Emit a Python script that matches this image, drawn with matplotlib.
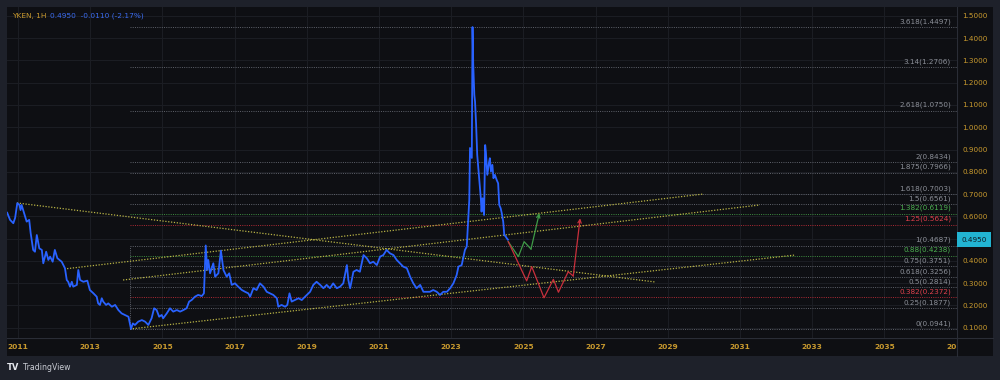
#===============================================================================#
# import external dependencies                                                  #
#===============================================================================#

import matplotlib
matplotlib.use('Agg')
import matplotlib.pyplot as plt
import matplotlib.transforms as mtransforms
from matplotlib.patches import Rectangle
from matplotlib.lines import Line2D

#===============================================================================#
# chart data                                                                    #
#===============================================================================#

ticker = 'YKEN, 1H'
last_price = 0.4950
last_change = -0.0110
last_change_pct = -2.17

price_years = [2010.70, 2010.78, 2010.87, 2010.92, 2010.98, 2011.04, 2011.07, 2011.10, 2011.17, 2011.24,
               2011.31, 2011.35, 2011.42, 2011.47, 2011.52, 2011.59, 2011.66, 2011.70, 2011.78, 2011.84,
               2011.89, 2011.96, 2012.02, 2012.09, 2012.21, 2012.30, 2012.35, 2012.39, 2012.44, 2012.49,
               2012.53, 2012.63, 2012.67, 2012.72, 2012.81, 2012.92, 2012.99, 2013.09, 2013.18, 2013.22,
               2013.27, 2013.32, 2013.36, 2013.44, 2013.50, 2013.60, 2013.69, 2013.78, 2013.87, 2013.96,
               2014.06, 2014.13, 2014.18, 2014.24, 2014.33, 2014.43, 2014.52, 2014.61, 2014.70, 2014.77,
               2014.84, 2014.91, 2014.98, 2015.02, 2015.12, 2015.21, 2015.30, 2015.40, 2015.49, 2015.58,
               2015.67, 2015.74, 2015.81, 2015.90, 2015.99, 2016.09, 2016.15, 2016.20, 2016.24, 2016.27,
               2016.32, 2016.41, 2016.46, 2016.55, 2016.62, 2016.69, 2016.78, 2016.85, 2016.92, 2017.01,
               2017.10, 2017.20, 2017.29, 2017.38, 2017.43, 2017.52, 2017.61, 2017.70, 2017.80, 2017.89,
               2017.98, 2018.07, 2018.17, 2018.21, 2018.30, 2018.40, 2018.46, 2018.52, 2018.58, 2018.67,
               2018.77, 2018.86, 2018.95, 2019.09, 2019.18, 2019.27, 2019.37, 2019.46, 2019.55, 2019.64,
               2019.73, 2019.83, 2019.92, 2020.01, 2020.11, 2020.15, 2020.20, 2020.29, 2020.38, 2020.47,
               2020.57, 2020.66, 2020.75, 2020.84, 2020.94, 2021.03, 2021.12, 2021.21, 2021.30, 2021.40,
               2021.49, 2021.58, 2021.67, 2021.77, 2021.86, 2021.95, 2022.04, 2022.14, 2022.23, 2022.32,
               2022.41, 2022.50, 2022.60, 2022.69, 2022.78, 2022.88, 2022.97, 2023.06, 2023.15, 2023.20,
               2023.29, 2023.38, 2023.43, 2023.50, 2023.52, 2023.57, 2023.59, 2023.61, 2023.64, 2023.66,
               2023.69, 2023.72, 2023.78, 2023.82, 2023.84, 2023.87, 2023.91, 2023.94, 2023.96, 2024.00,
               2024.05, 2024.07, 2024.10, 2024.14, 2024.17, 2024.21, 2024.26, 2024.30, 2024.33, 2024.37,
               2024.40, 2024.44, 2024.47, 2024.51, 2024.54, 2024.57]

price_values = [0.616, 0.584, 0.569, 0.593, 0.659, 0.651, 0.628, 0.651, 0.614, 0.576,
                0.584, 0.525, 0.449, 0.441, 0.516, 0.456, 0.449, 0.389, 0.441, 0.404,
                0.419, 0.396, 0.449, 0.412, 0.396, 0.367, 0.314, 0.306, 0.284, 0.306,
                0.284, 0.292, 0.359, 0.314, 0.306, 0.311, 0.269, 0.254, 0.239, 0.209,
                0.202, 0.232, 0.217, 0.202, 0.209, 0.194, 0.202, 0.179, 0.164, 0.157,
                0.149, 0.094, 0.119, 0.112, 0.127, 0.134, 0.127, 0.112, 0.142, 0.187,
                0.179, 0.149, 0.157, 0.142, 0.164, 0.187, 0.172, 0.179, 0.172, 0.179,
                0.187, 0.217, 0.224, 0.239, 0.247, 0.242, 0.254, 0.469, 0.359, 0.404,
                0.344, 0.389, 0.329, 0.344, 0.446, 0.359, 0.329, 0.344, 0.292, 0.299,
                0.284, 0.269, 0.261, 0.254, 0.239, 0.277, 0.269, 0.299, 0.284, 0.261,
                0.254, 0.247, 0.232, 0.194, 0.202, 0.194, 0.202, 0.254, 0.217, 0.224,
                0.232, 0.224, 0.239, 0.261, 0.292, 0.306, 0.292, 0.277, 0.292, 0.277,
                0.299, 0.277, 0.284, 0.299, 0.381, 0.314, 0.277, 0.351, 0.359, 0.351,
                0.426, 0.412, 0.389, 0.396, 0.381, 0.419, 0.426, 0.449, 0.434, 0.426,
                0.404, 0.389, 0.374, 0.367, 0.329, 0.299, 0.277, 0.292, 0.261, 0.261,
                0.261, 0.269, 0.261, 0.247, 0.261, 0.261, 0.277, 0.299, 0.336, 0.374,
                0.381, 0.449, 0.464, 0.673, 0.907, 0.862, 1.450, 1.280, 1.145, 1.115,
                1.010, 0.876, 0.756, 0.681, 0.621, 0.681, 0.606, 0.920, 0.890, 0.786,
                0.845, 0.861, 0.801, 0.831, 0.771, 0.786, 0.763, 0.748, 0.651, 0.636,
                0.614, 0.576, 0.516, 0.509, 0.501, 0.495]

# fib extension levels (ratio, price)
fib_ratios = ['0', '0.25', '0.382', '0.5', '0.618', '0.75', '0.88', '1', '1.25', '1.382',
              '1.5', '1.618', '1.875', '2', '2.618', '3.14', '3.618']
fib_levels = [0.0941, 0.1877, 0.2372, 0.2814, 0.3256, 0.3751, 0.4238, 0.4687, 0.5624, 0.6119,
              0.6561, 0.7003, 0.7966, 0.8434, 1.0750, 1.2706, 1.4497]
fib_start_year = 2014.10

# dotted trend lines (start/end as year, price)
trend_start_years = [2010.97, 2012.36, 2013.91, 2014.10]
trend_start_values = [0.660, 0.365, 0.314, 0.094]
trend_end_years = [2028.65, 2029.98, 2031.55, 2032.52]
trend_end_values = [0.305, 0.700, 0.651, 0.426]

# projected paths
green_years = [2024.58, 2024.86, 2025.02, 2025.21, 2025.44]
green_values = [0.486, 0.419, 0.486, 0.453, 0.614]
red_years = [2024.58, 2025.09, 2025.23, 2025.57, 2025.83, 2025.97, 2026.24, 2026.38, 2026.57]
red_values = [0.486, 0.310, 0.374, 0.234, 0.317, 0.259, 0.351, 0.332, 0.591]

# axes ticks
price_ticks = [0.1, 0.2, 0.3, 0.4, 0.5, 0.6, 0.7, 0.8, 0.9, 1.0, 1.1, 1.2, 1.3, 1.4, 1.5]
year_ticks = [2011, 2013, 2015, 2017, 2019, 2021, 2023, 2025, 2027, 2029, 2031, 2033, 2035, 2037]
year_labels = ['2011', '2013', '2015', '2017', '2019', '2021', '2023', '2025', '2027', '2029',
               '2031', '2033', '2035', '20']

#===============================================================================#
# style                                                                         #
#===============================================================================#

W, H = 1000, 380
frameBg = '#1e212a'
panelBg = '#0e0f13'
gridCol = '#1c1e24'
sepCol = '#2a2d36'
axisText = '#c99a2e'
fibGrey = '#5f626b'
fibLabelGrey = '#8c8f98'
fibRed = '#b02a35'
fibGreen = '#3e8e41'
fibRedText = '#e0404c'
fibGreenText = '#4caf50'
trendCol = '#b9b446'
blue = '#2962ff'
dots = (0, (1, 1.3))

fibColor = {'0.382': (fibRed, fibRedText), '1.25': (fibRed, fibRedText),
            '0.88': (fibGreen, fibGreenText), '1.382': (fibGreen, fibGreenText)}

plt.rcParams['font.family'] = 'DejaVu Sans'

def px(x, y):
    """pixel position -> figure fraction"""
    return x / W, 1 - y / H

#===============================================================================#
# figure                                                                        #
#===============================================================================#

fig = plt.figure(figsize=(W / 100, H / 100), dpi=100, facecolor=frameBg)

# dark panel behind plot, price scale and date scale
fig.patches.append(Rectangle(px(7, 356), 986 / W, 349 / H, transform=fig.transFigure,
                             facecolor=panelBg, edgecolor='none', zorder=-5))

l, b = px(7, 338)
r, t = px(957, 7)
ax = fig.add_axes([l, b, r - l, t - b])
ax.set_facecolor(panelBg)
ax.set_xlim(2010.695, 2037.01)
ax.set_ylim(0.0535, 1.540)

for side in ['top', 'left', 'right', 'bottom']:
    ax.spines[side].set_visible(False)

# separators of price / date scale
fig.add_artist(Line2D([957 / W, 957 / W], [1 - 7 / H, 1 - 356 / H], color=sepCol, lw=0.8,
                      transform=fig.transFigure, zorder=-1))
fig.add_artist(Line2D([7 / W, 993 / W], [1 - 338 / H, 1 - 338 / H], color=sepCol, lw=0.8,
                      transform=fig.transFigure, zorder=-1))

# grid
for yr in year_ticks:
    ax.axvline(yr, color=gridCol, lw=0.7, zorder=0.5)
for p in price_ticks:
    ax.axhline(p, color=gridCol, lw=0.7, zorder=0.5)

# ticks
ax.yaxis.tick_right()
ax.set_yticks(price_ticks)
ax.set_yticklabels([f'{p:.4f}' for p in price_ticks])
ax.set_xticks(year_ticks)
ax.set_xticklabels(year_labels)
ax.tick_params(axis='y', length=0, pad=4, labelsize=5.2, labelcolor=axisText)
ax.tick_params(axis='x', length=0, pad=4.5, labelsize=5.4, labelcolor=axisText)
for lab in ax.get_xticklabels():
    lab.set_fontweight('bold')
ax.get_xticklabels()[-1].set_ha('right')

# fib levels--------------------------------------------------------------------#

labelTrans = mtransforms.blended_transform_factory(ax.transAxes, ax.transData)
for ratio, level in zip(fib_ratios, fib_levels):
    lineCol, textCol = fibColor.get(ratio, (fibGrey, fibLabelGrey))
    ax.plot([fib_start_year, 2037.01], [level, level], color=lineCol, lw=0.7, ls=dots, zorder=1)
    ax.annotate(f'{ratio}({level:.4f})', xy=(0.9937, level), xycoords=labelTrans,
                xytext=(0, 1.6), textcoords='offset points', ha='right', va='bottom',
                fontsize=5.2, color=textCol, zorder=2)
ax.plot([fib_start_year, fib_start_year], [fib_levels[0], fib_levels[7]], color=fibGrey, lw=0.7, ls=dots, zorder=1)

# trend lines-------------------------------------------------------------------#

for x0, y0, x1, y1 in zip(trend_start_years, trend_start_values, trend_end_years, trend_end_values):
    ax.plot([x0, x1], [y0, y1], color=trendCol, lw=0.9, ls=dots, zorder=2)

# price---------------------------------------------------------------------------#

ax.plot(price_years, price_values, color=blue, lw=1.3, zorder=4, solid_joinstyle='round')

# projections
for yrs, vals, col in [(green_years, green_values, '#3f9b47'), (red_years, red_values, '#c9303c')]:
    ax.plot(yrs[:-1], vals[:-1], color=col, lw=0.9, zorder=3)
    ax.annotate('', xy=(yrs[-1], vals[-1]), xytext=(yrs[-2], vals[-2]),
                arrowprops=dict(arrowstyle='->', color=col, lw=0.9, mutation_scale=6,
                                shrinkA=0, shrinkB=0), zorder=3)

# last price tag
ax.text(1.0045, last_price, f'{last_price:.4f}', transform=labelTrans, ha='left', va='center',
        fontsize=5.2, color='#0e1a22', zorder=10, clip_on=False,
        bbox=dict(boxstyle='square,pad=0.6', facecolor='#22b4d2', edgecolor='none'))

# header / footer-----------------------------------------------------------------#

fig.text(*px(12, 16), ticker, color=axisText, fontsize=5.3, va='center', ha='left')
fig.text(*px(50, 16), f'{last_price:.4f}  {last_change:.4f} ({last_change_pct:.2f}%)',
         color='#3b6cf0', fontsize=5.3, va='center', ha='left')
fig.text(*px(7, 368), 'TV', color='#e6e8ee', fontsize=6, fontweight='bold', va='center', ha='left')
fig.text(*px(23, 368), 'TradingView', color='#c9ccd4', fontsize=5.6, va='center', ha='left')

fig.savefig('out.png', dpi=100, facecolor=frameBg)
plt.close(fig)
